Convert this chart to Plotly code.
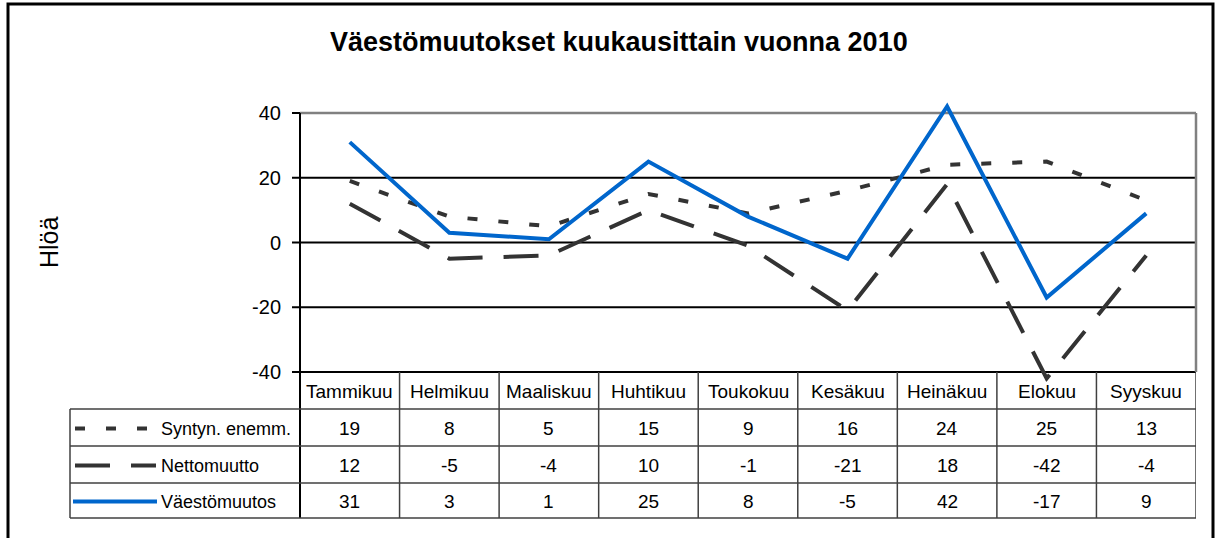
import plotly.graph_objects as go

# ---- data ----
categories = ["Tammikuu", "Helmikuu", "Maaliskuu", "Huhtikuu", "Toukokuu",
              "Kesäkuu", "Heinäkuu", "Elokuu", "Syyskuu"]
syntyn_enemm = [19, 8, 5, 15, 9, 16, 24, 25, 13]
nettomuutto = [12, -5, -4, 10, -1, -21, 18, -42, -4]
vaestomuutos = [31, 3, 1, 25, 8, -5, 42, -17, 9]
series_names = ["Syntyn. enemm.", "Nettomuutto", "Väestömuutos"]
y_ticks = [-40, -20, 0, 20, 40]
y_tick_labels = ["-40", "-20", "0", "20", "40"]
title_text = "Väestömuutokset kuukausittain vuonna 2010"
y_title = "Hlöä"

# ---- layout helpers (page pixel -> paper); body margin removed via post_script ----
W, H = 1217, 538
def px(x):
    return x / W
def py(y):
    return 1 - y / H

PLOT_L, PLOT_R = 300, 1196
Y40_PX, YM40_PX = 113, 372
unit = (YM40_PX - Y40_PX) / 80.0
Y_LO, Y_HI = -43, 44
dom_bottom = py(YM40_PX + (-40 - Y_LO) * unit)
dom_top = py(Y40_PX - (Y_HI - 40) * unit)

DARK = "#333333"
BLUE = "#0066CC"
BASE_FONT = "Liberation Sans, Arial, sans-serif"
TABLE_FONT = "Liberation Sans, Arial, sans-serif"
TABLE_SIZE = 19
LEGEND_SIZE = 18

styles = [
    dict(color=DARK, width=4, dash="10px,21px"),
    dict(color=DARK, width=4, dash="35px,21px"),
    dict(color=BLUE, width=4),
]
all_series = [syntyn_enemm, nettomuutto, vaestomuutos]

fig = go.Figure()
for name, vals, st in zip(series_names, all_series, styles):
    fig.add_trace(go.Scatter(x=categories, y=vals, mode="lines", name=name,
                             line=st, showlegend=False, hoverinfo="x+y+name"))

shapes = []
for v in [-40, -20, 0, 20]:
    shapes.append(dict(type="line", xref="paper", yref="y", x0=px(PLOT_L), x1=px(PLOT_R),
                       y0=v, y1=v, line=dict(color="black", width=2), layer="below"))
shapes.append(dict(type="line", xref="paper", yref="y", x0=px(PLOT_L), x1=px(PLOT_R),
                   y0=40, y1=40, line=dict(color="#808080", width=2.5), layer="below"))
shapes.append(dict(type="line", xref="paper", yref="y", x0=px(PLOT_R), x1=px(PLOT_R),
                   y0=-40, y1=40, line=dict(color="#808080", width=2.5), layer="below"))
shapes.append(dict(type="line", xref="paper", yref="paper", x0=px(PLOT_L), x1=px(PLOT_L),
                   y0=py(Y40_PX), y1=py(518), line=dict(color="black", width=2)))
for v in y_ticks:
    shapes.append(dict(type="line", xref="paper", yref="y", x0=px(PLOT_L - 8), x1=px(PLOT_L),
                       y0=v, y1=v, line=dict(color="black", width=2)))

# ---- data table ----
TBL_L = 70
row_edges = [372, 409, 446, 483, 518]
TLINE = dict(color="#404040", width=1.5)
n = len(categories)
for yy in row_edges[1:]:
    shapes.append(dict(type="line", xref="paper", yref="paper", x0=px(TBL_L), x1=px(PLOT_R),
                       y0=py(yy), y1=py(yy), line=TLINE))
for k in range(1, n + 1):
    shapes.append(dict(type="line", xref="x", yref="paper", x0=k - 0.5, x1=k - 0.5,
                       y0=py(row_edges[0]), y1=py(row_edges[-1]), line=TLINE))
shapes.append(dict(type="line", xref="paper", yref="paper", x0=px(TBL_L), x1=px(TBL_L),
                   y0=py(row_edges[1]), y1=py(row_edges[-1]), line=TLINE))

annotations = []
for c in categories:
    annotations.append(dict(x=c, xref="x", y=py((row_edges[0] + row_edges[1]) / 2 + 1), yref="paper",
                            text=c, showarrow=False, xanchor="center", yanchor="middle",
                            font=dict(family=TABLE_FONT, size=TABLE_SIZE, color="black")))
legend_x = [(75, 148), (75, 156), (73, 157)]
for r, (name, vals, st) in enumerate(zip(series_names, all_series, styles)):
    yc = (row_edges[r + 1] + row_edges[r + 2]) / 2
    for c, v in zip(categories, vals):
        annotations.append(dict(x=c, xref="x", y=py(yc + 1), yref="paper", text=str(v),
                                showarrow=False, xanchor="center", yanchor="middle",
                                font=dict(family=TABLE_FONT, size=TABLE_SIZE, color="black")))
    annotations.append(dict(x=px(159), xref="paper", y=py(yc + 1), yref="paper", text=name,
                            showarrow=False, xanchor="left", yanchor="middle",
                            font=dict(family=TABLE_FONT, size=LEGEND_SIZE, color="black")))
    x0, x1 = legend_x[r]
    shapes.append(dict(type="line", xref="paper", yref="paper", x0=px(x0), x1=px(x1),
                       y0=py(yc + 1), y1=py(yc + 1), line=st))

annotations.append(dict(x=px(619), xref="paper", y=py(42), yref="paper", text="<b>" + title_text + "</b>",
                        showarrow=False, xanchor="center", yanchor="middle",
                        font=dict(family=BASE_FONT, size=27, color="black")))
annotations.append(dict(x=px(49), xref="paper", y=py(242), yref="paper", text=y_title, textangle=-90,
                        showarrow=False, xanchor="center", yanchor="middle",
                        font=dict(family=BASE_FONT, size=25, color="black")))

# outer frame
shapes.append(dict(type="rect", xref="paper", yref="paper", x0=px(8), x1=px(1213),
                   y0=py(4), y1=py(560), line=dict(color="black", width=3)))

fig.update_layout(
    width=W, height=H,
    margin=dict(l=0, r=0, t=0, b=0),
    paper_bgcolor="white", plot_bgcolor="white",
    xaxis=dict(domain=[px(PLOT_L), px(PLOT_R)], range=[-0.5, n - 0.5], type="category",
               showgrid=False, zeroline=False, showticklabels=False, showline=False, ticks=""),
    yaxis=dict(domain=[dom_bottom, dom_top], range=[Y_LO, Y_HI], tickvals=y_ticks,
               ticktext=y_tick_labels,
               showgrid=False, zeroline=False, showline=False, ticks="",
               ticklabelstandoff=18,
               tickfont=dict(family=BASE_FONT, size=20, color="black")),
    shapes=shapes,
    annotations=annotations,
    showlegend=False,
)

fig.write_html("out.html",
               config={"displayModeBar": False},
               post_script="document.body.style.margin='0';document.body.style.overflow='hidden';")
